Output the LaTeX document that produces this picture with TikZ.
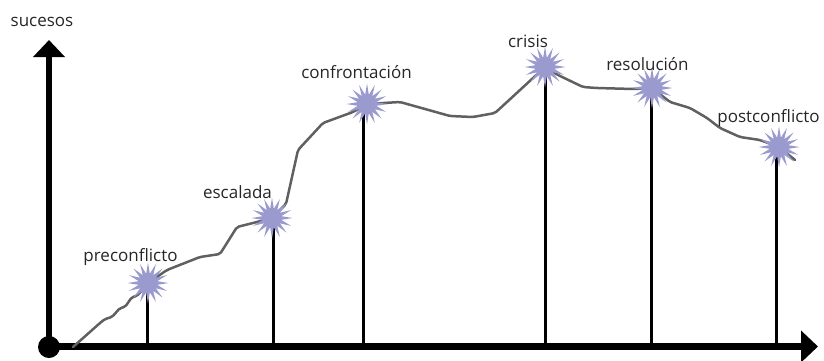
\documentclass[tikz,border=0pt]{standalone}
\usepackage{fontspec}
\setmainfont{Open Sans}
\usetikzlibrary{arrows.meta}
\definecolor{burst}{HTML}{9A9ACE}
\definecolor{curvegray}{HTML}{606060}
\tikzset{
  burstpic/.pic={
    \fill[burst] (0:20.5pt) \foreach \i in {0,...,15}{ -- (\i*22.5:20.5pt) -- (\i*22.5+11.25:9.5pt)} -- cycle;
  },
  lbl/.style={anchor=base, inner sep=0pt, font=\fontsize{17}{19}\selectfont, text=black!85},
  axisline/.style={line width=6.5pt, -{Triangle[width=31pt,length=17pt]}},
  stem/.style={line width=3pt},
  trend/.style={curvegray, line width=2.5pt, line join=round, line cap=round, rounded corners=2pt}
}
\begin{document}
\begin{tikzpicture}[x=1pt,y=-1pt]
\useasboundingbox (0,0) rectangle (824,360);
% axes
\node[circle, fill=black, minimum size=22pt, inner sep=0pt] (o) at (49,347) {};
\coordinate (ytip) at (49,40);
\coordinate (xtip) at (818,346.5);
\coordinate (xstart) at (49,346.5);
\draw[axisline] (o.center) -- (ytip);
\draw[axisline] (xstart) -- (xtip);
% stem feet
\coordinate (f1) at (147,346);
\coordinate (f2) at (273,346);
\coordinate (f3) at (363,346);
\coordinate (f4) at (545,346);
\coordinate (f5) at (651,346);
\coordinate (f6) at (776,346);
% star centres
\coordinate (c1) at (148,283);
\coordinate (c2) at (272,218);
\coordinate (c3) at (367,104);
\coordinate (c4) at (545,67);
\coordinate (c5) at (652,88);
\coordinate (c6) at (779,147);
% stems
\draw[stem] (f1 |- c1) -- (f1);
\draw[stem] (f2 |- c2) -- (f2);
\draw[stem] (f3 |- c3) -- (f3);
\draw[stem] (f4 |- c4) -- (f4);
\draw[stem] (f5 |- c5) -- (f5);
\draw[stem] (f6 |- c6) -- (f6);
% trend curve
\draw[trend] (73,347) -- (100,323) -- (105,319) -- (112,317) -- (120,308) -- (125,307) -- (132,297) -- (137,296) -- (c1)
  -- (167,270) -- (200,257) -- (220,254) -- (237,227) -- (253,223) -- (c2)
  -- (286,204) -- (298,150) -- (323,123) -- (353,112) -- (c3)
  -- (400,102) -- (450,116) -- (473,117) -- (495,113) -- (c4)
  -- (558,75) -- (583,87) -- (597,88) -- (633,89) -- (c5)
  -- (670,102) -- (690,108) -- (707,118) -- (720,128) -- (740,137) -- (760,140) -- (c6) -- (795,160);
% bursts
\pic (s1) at (c1) {burstpic};
\pic (s2) at (c2) {burstpic};
\pic (s3) at (c3) {burstpic};
\pic (s4) at (c4) {burstpic};
\pic (s5) at (c5) {burstpic};
\pic (s6) at (c6) {burstpic};
% labels
\node[lbl] (tsuc) at (42,26) {sucesos};
\node[lbl] (t1) at (130.5,261) {preconflicto};
\node[lbl] (t2) at (237.5,198) {escalada};
\node[lbl] (t3) at (356.5,78) {confrontación};
\node[lbl] (t4) at (528,47) {crisis};
\node[lbl] (t5) at (647.5,70) {resolución};
\node[lbl] (t6) at (768.5,122) {postconflicto};
\end{tikzpicture}
\end{document}
